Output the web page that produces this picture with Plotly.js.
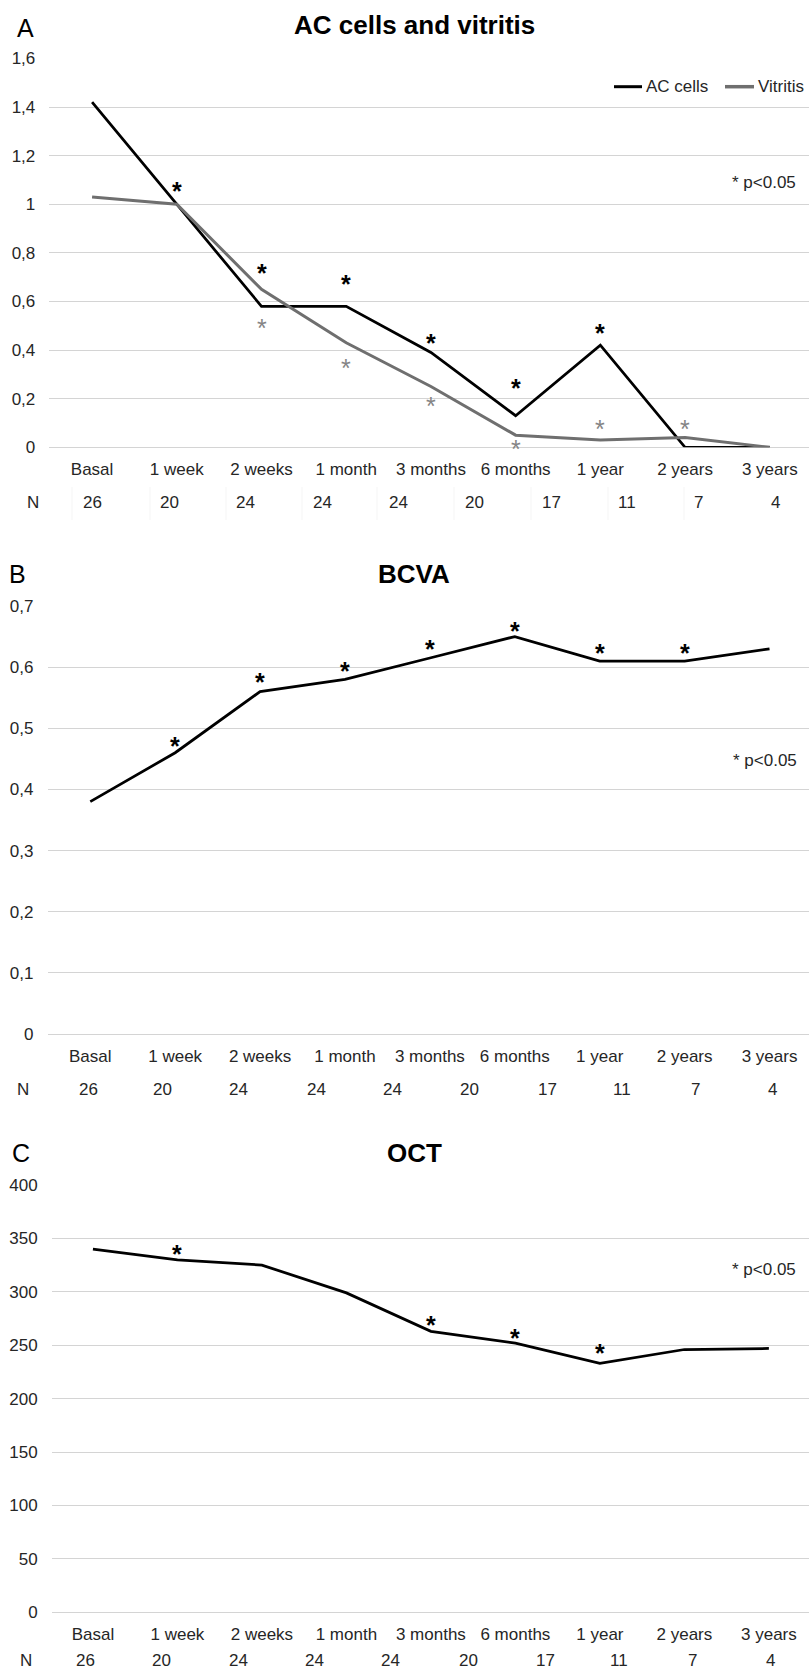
<!DOCTYPE html>
<html>
<head>
<meta charset="utf-8">
<script src="https://cdn.plot.ly/plotly-3.0.1.min.js"></script>
<style>
  html, body { margin: 0; padding: 0; background: #fff; }
  #chart { width: 809px; height: 1672px; }
</style>
</head>
<body>
<div id="chart"></div>
<script>
// ---------- DATA ----------
const categories = ["Basal", "1 week", "2 weeks", "1 month", "3 months", "6 months", "1 year", "2 years", "3 years"];

// Panel A: AC cells and vitritis
const acCells  = [1.42, 1.00, 0.58, 0.58, 0.39, 0.13, 0.42, 0.00, 0.00];
const vitritis = [1.03, 1.00, 0.65, 0.43, 0.25, 0.05, 0.03, 0.04, 0.00];
const acStarY  = [null, 1.08, 0.743, 0.698, 0.455, 0.27, 0.494, null, null];
const vitStarY = [null, null, 0.517, 0.35, 0.195, 0.016, 0.099, 0.099, null];

// Panel B: BCVA
const bcva      = [0.38, 0.46, 0.56, 0.58, 0.615, 0.65, 0.61, 0.61, 0.63];
const bcvaStarY = [null, 0.481, 0.586, 0.604, 0.639, 0.669, 0.633, 0.633, null];

// Panel C: OCT
const oct      = [340, 330, 325, 299, 263, 252, 233, 246, 247];
const octStarY = [null, 340.8, null, null, 274.6, 262.7, 248, null, null];

// N row (sample size table)
const nValues = [26, 20, 24, 24, 24, 20, 17, 11, 7, 4];

const yTicksA = [0, 0.2, 0.4, 0.6, 0.8, 1, 1.2, 1.4, 1.6];
const yTicksB = [0, 0.1, 0.2, 0.3, 0.4, 0.5, 0.6, 0.7];
const yTicksC = [0, 50, 100, 150, 200, 250, 300, 350, 400];

// ---------- LAYOUT HELPERS ----------
const W = 809, H = 1672;
const px = x => x / W;
const py = y => 1 - y / H;
const FONT = '"Liberation Sans", Arial, Helvetica, sans-serif';
const TXT = '#262626';
const GRID = '#d4d4d4';
const GRAY = '#6f6f6f';
const GRAYSTAR = '#858585';
const FS = 17;

// positions (layout only)
const nPosA = [92, 169, 245, 322, 398, 475, 551, 627, 698, 775];
const nPosB = [88, 162.5, 238, 316, 392, 469.5, 547, 622, 695, 772.5];
const nPosC = [85, 161.5, 238, 314.7, 390.6, 468, 545, 619, 692, 770];

const traces = [
  { x: categories, y: acCells, type: 'scatter', mode: 'lines', xaxis: 'x', yaxis: 'y',
    line: { color: '#000000', width: 2.75 }, hoverinfo: 'skip' },
  { x: categories, y: vitritis, type: 'scatter', mode: 'lines', xaxis: 'x', yaxis: 'y',
    line: { color: GRAY, width: 3 }, hoverinfo: 'skip' },
  { x: categories, y: bcva, type: 'scatter', mode: 'lines', xaxis: 'x2', yaxis: 'y2',
    line: { color: '#000000', width: 2.75 }, hoverinfo: 'skip' },
  { x: categories, y: oct, type: 'scatter', mode: 'lines', xaxis: 'x3', yaxis: 'y3',
    line: { color: '#000000', width: 2.75 }, hoverinfo: 'skip' }
];

function xAxis(left, range, anchor) {
  return {
    type: 'category', domain: [px(left), 1], range: range, anchor: anchor,
    showgrid: false, zeroline: false, showline: false, ticks: '',
    tickfont: { family: FONT, size: FS, color: TXT }, ticklabelstandoff: 10,
    fixedrange: true
  };
}
function yAxis(bottom, top, range, tickvals, anchor) {
  return {
    domain: [py(bottom), py(top)], range: range, anchor: anchor,
    tickmode: 'array', tickvals: tickvals,
    showgrid: true, gridcolor: GRID, gridwidth: 1,
    zeroline: true, zerolinecolor: GRID, zerolinewidth: 1,
    showline: false, ticks: '',
    tickfont: { family: FONT, size: FS, color: TXT }, ticklabelstandoff: 13,
    fixedrange: true
  };
}

const annotations = [];
const shapes = [];

function addText(text, x, y, size, opts) {
  annotations.push(Object.assign({
    text: text, xref: 'paper', yref: 'paper', x: px(x), y: py(y),
    xanchor: 'center', yanchor: 'middle', showarrow: false,
    font: { family: FONT, size: size, color: TXT }
  }, opts || {}));
}

// titles and panel letters
const titleFont = { family: FONT, size: 26, color: '#000' };
addText('<b>AC cells and vitritis</b>', 414, 25, 26, { font: titleFont });
addText('<b>BCVA</b>', 414, 573.5, 26, { font: titleFont });
addText('<b>OCT</b>', 414, 1152.5, 26, { font: titleFont });
const letterFont = { family: FONT, size: 25, color: '#000' };
addText('A', 25.5, 27.5, 25, { font: letterFont });
addText('B', 17.5, 573.5, 25, { font: letterFont });
addText('C', 21, 1152.5, 25, { font: letterFont });

// p-value notes
addText('* p<0.05', 798, 182.7, FS, { xanchor: 'right' });
addText('* p<0.05', 799, 760, FS, { xanchor: 'right' });
addText('* p<0.05', 798, 1269, FS, { xanchor: 'right' });

// legend (panel A)
shapes.push({ type: 'line', xref: 'paper', yref: 'paper', x0: px(614), x1: px(642), y0: py(86.7), y1: py(86.7),
  line: { color: '#000', width: 3 } });
shapes.push({ type: 'line', xref: 'paper', yref: 'paper', x0: px(725), x1: px(754), y0: py(86.7), y1: py(86.7),
  line: { color: GRAY, width: 3.5 } });
addText('AC cells', 644, 86.7, FS, { xanchor: 'left' });
addText('Vitritis', 756, 86.7, FS, { xanchor: 'left' });

// N rows
function addNRow(nx, y, positions) {
  addText('N', nx, y, FS);
  nValues.forEach((v, i) => addText(String(v), positions[i], y, FS));
}
addNRow(33, 502, nPosA);
addNRow(23, 1089, nPosB);
addNRow(26, 1660, nPosC);

// faint table cell borders in panel A N row
[72, 150, 226, 302, 377, 454, 531, 608, 684].forEach(x => {
  shapes.push({ type: 'line', xref: 'paper', yref: 'paper', x0: px(x), x1: px(x), y0: py(487), y1: py(520),
    line: { color: '#f5f5f5', width: 1 } });
});

// significance stars (positioned on the data axes)
function addStars(vals, xref, yref, color, bold) {
  vals.forEach((v, i) => {
    if (v === null) return;
    annotations.push({
      text: bold ? '<b>*</b>' : '*', xref: xref, yref: yref, x: categories[i], y: v,
      xanchor: 'center', yanchor: 'middle', yshift: -6, showarrow: false,
      font: { family: FONT, size: 25, color: color }
    });
  });
}
addStars(acStarY, 'x', 'y', '#000', true);
addStars(vitStarY, 'x', 'y', GRAYSTAR, false);
addStars(bcvaStarY, 'x2', 'y2', '#000', true);
addStars(octStarY, 'x3', 'y3', '#000', true);

const layout = {
  width: W, height: H, autosize: false,
  margin: { l: 0, r: 0, t: 0, b: 0, pad: 0 },
  paper_bgcolor: '#fff', plot_bgcolor: '#fff',
  separators: ',.',
  showlegend: false,
  font: { family: FONT, size: FS, color: TXT },
  xaxis:  xAxis(49.3, [-0.505, 8.463], 'y'),
  yaxis:  yAxis(447.3, 58.4, [0, 1.6], yTicksA, 'x'),
  xaxis2: xAxis(47.5, [-0.504, 8.465], 'y2'),
  yaxis2: yAxis(1034, 606, [0, 0.7], yTicksB, 'x2'),
  xaxis3: xAxis(51.7, [-0.488, 8.475], 'y3'),
  yaxis3: yAxis(1612.3, 1185, [0, 400], yTicksC, 'x3'),
  annotations: annotations,
  shapes: shapes
};

Plotly.newPlot('chart', traces, layout, { staticPlot: true, displayModeBar: false });
</script>
</body>
</html>
